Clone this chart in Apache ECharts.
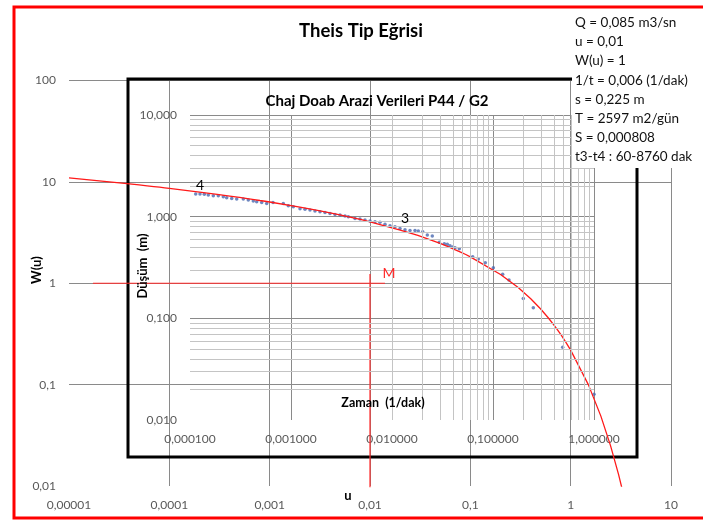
<!DOCTYPE html>
<html><head><meta charset="utf-8">
<script src="https://cdn.jsdelivr.net/npm/echarts@6/dist/echarts.min.js"></script>
<style>html,body{margin:0;padding:0;background:#fff}#c{width:703px;height:521px}</style>
</head><body><div id="c"></div>
<script>
// ---- Theis type curve (outer chart): u vs W(u)
const theisU = [0.00001,0.00002,0.00003,0.00004,0.00005,0.00006,0.00007,0.00008,0.00009,
  0.0001,0.0002,0.0003,0.0004,0.0005,0.0006,0.0007,0.0008,0.0009,
  0.001,0.002,0.003,0.004,0.005,0.006,0.007,0.008,0.009,
  0.01,0.02,0.03,0.04,0.05,0.06,0.07,0.08,0.09,
  0.1,0.2,0.3,0.4,0.5,0.6,0.7,0.8,0.9,1,1.5,2,2.5,3,3.5,4];
const theisW = [10.94,10.24,9.84,9.55,9.33,9.14,8.99,8.86,8.74,
  8.63,7.94,7.53,7.25,7.02,6.84,6.69,6.55,6.44,
  6.33,5.64,5.23,4.95,4.73,4.54,4.39,4.26,4.14,
  4.04,3.35,2.96,2.68,2.47,2.30,2.15,2.03,1.92,
  1.82,1.22,0.906,0.702,0.560,0.454,0.374,0.311,0.260,0.219,0.100,0.0489,0.0249,0.0130,0.0070,0.00378];

// ---- Field data (inner chart): 1/t (1/dak) vs drawdown s (m)
const invT = [0.0001139,0.0001256,0.0001386,0.0001518,0.0001701,0.0001906,0.0002137,0.0002309,0.0002588,0.0002900,
  0.0003372,0.0003778,0.0004233,0.0004575,0.0005128,0.0005745,0.0006634,0.0008390,0.0009404,0.001054,
  0.001228,0.001376,0.001542,0.001728,0.001937,0.002171,0.002433,0.002726,0.003056,0.003424,
  0.003692,0.004302,0.004822,0.005403,0.006055,0.006786,0.007605,0.008523,0.009555,0.01071,
  0.01200,0.01345,0.01507,0.01689,0.01822,0.02014,0.02237,0.02506,0.02940,0.03295,
  0.03528,0.03752,0.03990,0.04206,0.04638,0.06295,0.07153,0.08390,0.1007,0.1247,
  0.1440,0.1995,0.2506,0.4898,1.0];
const drawdown = [1.668,1.668,1.657,1.631,1.605,1.605,1.569,1.534,1.513,1.490,
  1.490,1.456,1.424,1.401,1.382,1.351,1.382,1.351,1.280,1.251,
  1.196,1.180,1.161,1.135,1.117,1.102,1.077,1.053,1.037,1.014,
  0.998,0.962,0.947,0.926,0.905,0.891,0.879,0.840,0.814,0.795,
  0.767,0.743,0.733,0.733,0.722,0.710,0.659,0.644,0.559,0.541,
  0.534,0.517,0.502,0.495,0.484,0.403,0.383,0.352,0.314,0.271,
  0.238,0.157,0.127,0.0519,0.0179];

// ---- Match point M lines (outer chart units)
const matchHorizU = [0.0000173, 0.0141];
const matchHorizW = [1, 1];
const matchVertU = [0.01, 0.01];
const matchVertW = [1.235, 0.0097];

// ---- Tick labels
const outerXTicks = [0.00001,0.0001,0.001,0.01,0.1,1,10];
const outerXLabels = ['0,00001','0,0001','0,001','0,01','0,1','1','10'];
const outerYTicks = [0.01,0.1,1,10,100];
const outerYLabels = ['0,01','0,1','1','10','100'];
const innerXTicks = [0.0001,0.001,0.01,0.1,1];
const innerXLabels = ['0,000100','0,001000','0,010000','0,100000','1,000000'];
const innerYTicks = [0.01,0.1,1,10];
const innerYLabels = ['0,010','0,100','1,000','10,000'];
const minorMult = [2,3,4,5,6,7,8,9];

const infoLines = ['Q = 0,085 m3/sn','u = 0,01','W(u) = 1','1/t = 0,006 (1/dak)','s = 0,225 m','T = 2597 m2/gün','S = 0,000808','t3-t4 : 60-8760 dak'];
const mainTitle = 'Theis Tip Eğrisi';
const innerTitle = 'Chaj Doab Arazi Verileri P44 / G2';

function fmt(ticks, labels){
  return function(v){
    for (let i=0;i<ticks.length;i++){ if (Math.abs(Math.log10(v)-Math.log10(ticks[i]))<1e-6) return labels[i]; }
    return '';
  };
}
function minorVals(lo, hi){
  const out=[];
  for (let d=lo; d<hi; d*=10){ minorMult.forEach(m=>out.push(+(d*m).toPrecision(6))); }
  return out;
}
const FONT = 'Lato, "Open Sans", sans-serif';
const labelStyle = {color:'#595959', fontFamily:FONT, fontSize:12};
const majorCol = '#8a8a8a', minorCol = '#c4c4c4';

const chart = echarts.init(document.getElementById('c'), null, {renderer:'canvas'});

const option = {
  animation:false,
  backgroundColor:'#fff',
  grid:[
    {left:69, top:80.5, width:602, height:405.5},
    {left:190, top:115, width:404, height:305}
  ],
  xAxis:[
    {type:'log', gridIndex:0, min:0.00001, max:10, logBase:10,
     axisLine:{show:false}, axisTick:{show:false},
     axisLabel:{...labelStyle, margin:13, formatter:fmt(outerXTicks,outerXLabels)},
     splitLine:{show:true, showMinLine:false, lineStyle:{color:majorCol,width:1}}},
    {type:'log', gridIndex:1, min:0.0001, max:1, logBase:10,
     axisLine:{show:false}, axisTick:{show:false},
     axisLabel:{...labelStyle, margin:13, formatter:fmt(innerXTicks,innerXLabels)},
     splitLine:{show:true, showMinLine:false, lineStyle:{color:majorCol,width:1}}}
  ],
  yAxis:[
    {type:'log', gridIndex:0, min:0.01, max:100, logBase:10,
     axisLine:{show:false}, axisTick:{show:false},
     axisLabel:{...labelStyle, margin:13, formatter:fmt(outerYTicks,outerYLabels)},
     splitLine:{show:true, showMinLine:false, lineStyle:{color:majorCol,width:1}}},
    {type:'log', gridIndex:1, min:0.01, max:10, logBase:10,
     axisLine:{show:false}, axisTick:{show:false},
     axisLabel:{...labelStyle, margin:13, formatter:fmt(innerYTicks,innerYLabels)},
     splitLine:{show:true, showMinLine:false, lineStyle:{color:majorCol,width:1}}}
  ],
  series:[
    {type:'line', xAxisIndex:1, yAxisIndex:1, data:[], silent:true, z:1,
     markLine:{silent:true, symbol:['none','none'], label:{show:false}, animation:false,
       lineStyle:{type:'solid', color:minorCol, width:1},
       data: minorVals(0.0001,1).map(v=>({xAxis:v})).concat(minorVals(0.01,10).map(v=>({yAxis:v})))}},
    {type:'scatter', xAxisIndex:1, yAxisIndex:1, symbol:'circle', symbolSize:3.5,
     itemStyle:{color:'#4a69b0'}, z:3,
     data: invT.map((t,i)=>[t, drawdown[i]])},
    {type:'line', xAxisIndex:0, yAxisIndex:0, showSymbol:false, smooth:false, clip:true, z:4,
     lineStyle:{color:'#ff1a1a', width:1.3},
     data: theisU.map((u,i)=>[u, theisW[i]])},
    {type:'line', xAxisIndex:0, yAxisIndex:0, showSymbol:false, clip:false, z:4,
     lineStyle:{color:'#ff2a2a', width:1.2},
     data: matchHorizU.map((u,i)=>[u, matchHorizW[i]])},
    {type:'line', xAxisIndex:0, yAxisIndex:0, showSymbol:false, clip:false, z:4,
     lineStyle:{color:'#ff2a2a', width:1.2},
     data: matchVertU.map((u,i)=>[u, matchVertW[i]])}
  ],
  graphic:[
    {type:'rect', z:2, shape:{x:128, y:79, width:509, height:378}, style:{fill:null, stroke:'#000', lineWidth:3}},
    {type:'rect', z:20, shape:{x:572, y:9, width:140, height:159}, style:{fill:'#fff', stroke:null}},
    {type:'rect', z:21, shape:{x:14, y:7, width:700, height:511}, style:{fill:null, stroke:'#ff0000', lineWidth:3}},
    {type:'text', z:22, x:361, y:31, style:{text:mainTitle, font:'bold 18.5px '+FONT, fill:'#000', textAlign:'center', textVerticalAlign:'middle'}},
    {type:'text', z:22, x:377, y:101, style:{text:innerTitle, font:'bold 15px '+FONT, fill:'#000', textAlign:'center', textVerticalAlign:'middle'}},
    {type:'text', z:22, x:37, y:270, rotation:Math.PI/2, style:{text:'W(u)', font:'bold 13px '+FONT, fill:'#000', textAlign:'center', textVerticalAlign:'middle'}},
    {type:'text', z:22, x:348, y:496, style:{text:'u', font:'bold 13px '+FONT, fill:'#000', textAlign:'center', textVerticalAlign:'middle'}},
    {type:'text', z:22, x:143, y:266, rotation:Math.PI/2, style:{text:'Düşüm  (m)', font:'bold 13px '+FONT, fill:'#000', textAlign:'center', textVerticalAlign:'middle'}},
    {type:'text', z:22, x:383, y:403, style:{text:'Zaman  (1/dak)', font:'bold 12.5px '+FONT, fill:'#000', textAlign:'center', textVerticalAlign:'middle'}},
    {type:'text', z:22, x:200, y:185, style:{text:'4', font:'14px '+FONT, fill:'#000', textAlign:'center', textVerticalAlign:'middle'}},
    {type:'text', z:22, x:405, y:218, style:{text:'3', font:'14px '+FONT, fill:'#000', textAlign:'center', textVerticalAlign:'middle'}},
    {type:'text', z:22, x:389, y:273, style:{text:'M', font:'14px '+FONT, fill:'#ff2a2a', textAlign:'center', textVerticalAlign:'middle'}}
  ].concat(infoLines.map((s,i)=>({type:'text', z:22, x:575, y:23+i*19.05,
     style:{text:s, font:'13.5px '+FONT, fill:'#111', textAlign:'left', textVerticalAlign:'middle'}})))
};
chart.setOption(option);
</script></body></html>
